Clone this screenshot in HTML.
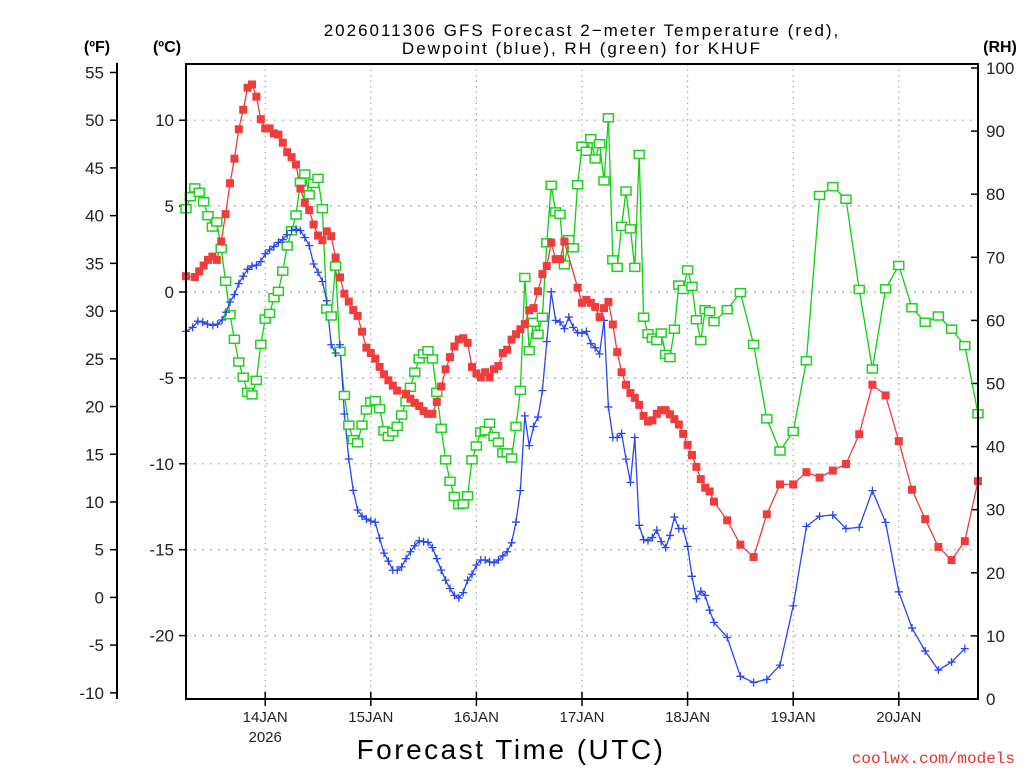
<!DOCTYPE html>
<html><head><meta charset="utf-8"><style>
body{margin:0;background:#fff;width:1024px;height:768px;overflow:hidden}
svg text{font-family:"Liberation Sans","DejaVu Sans",sans-serif}
</style></head><body>
<svg id="chart" width="1024" height="768" viewBox="0 0 1024 768" xmlns="http://www.w3.org/2000/svg">
<g id="grid"></g>
<g id="axes"></g>
<g id="series"></g>
<rect x="186" y="64" width="792" height="635" fill="none" stroke="#000" stroke-width="2"/>
<text x="582" y="36" font-size="17" letter-spacing="2" text-anchor="middle">2026011306 GFS Forecast 2−meter Temperature (red),</text>
<text x="582" y="54" font-size="17" letter-spacing="2" text-anchor="middle">Dewpoint (blue), RH (green) for KHUF</text>
<text x="97" y="52" font-size="16" font-weight="bold" text-anchor="middle">(ºF)</text>
<text x="167" y="52" font-size="16" font-weight="bold" text-anchor="middle">(ºC)</text>
<text x="1000" y="52" font-size="16" font-weight="bold" text-anchor="middle">(RH)</text>
<text x="511" y="759" font-size="28" text-anchor="middle" letter-spacing="2.5">Forecast Time (UTC)</text>
<text x="1015" y="763" font-size="16" fill="#e83030" text-anchor="end" style="font-family:'Liberation Mono',monospace">coolwx.com/models</text>
</svg>
<script>
const tempHours=[0,2,3,4,5,6,7,8,9,10,11,12,13,14,15,16,17,18,19,20,21,22,23,24,25,26,27,28,29,30,31,32,33,34,35,36,37,38,39,40,41,42,43,44,45,46,47,48,50,51,52,53,54,55,56,57,58,59,60,61,62,63,64,65,66,67,68,69,70,71,72,73,74,75,76,77,78,79,80,81,82,83,84,85,86,89,90,91,92,93,94,95,96,97,98,99,100,101,102,103,104,105,106,107,108,109,110,111,112,113,114,115,116,117,118,119,120,123,126,129,132,135,138,141,144,147,150,153,156,159,162,165,168,171,174,177,180];
const tempC=[0.92,0.87,1.2,1.54,1.87,2.06,1.87,2.94,4.53,6.33,7.76,9.47,10.61,11.89,12.08,11.37,10.06,9.52,9.52,9.23,9.16,8.69,8.14,7.85,7.42,6.02,5.19,4.77,3.93,3.29,3.01,3.53,3.25,2.01,0.85,-0.1,-0.56,-1.05,-1.39,-2.31,-3.24,-3.55,-3.88,-4.36,-4.79,-5.14,-5.45,-5.74,-5.93,-6.21,-6.45,-6.64,-6.93,-7.09,-7.09,-6.4,-5.5,-4.5,-3.79,-3.17,-2.77,-2.69,-2.96,-4.36,-4.74,-4.97,-4.67,-4.97,-4.5,-4.31,-3.55,-3.36,-2.77,-2.46,-2.17,-1.87,-1.06,-0.94,0.04,1.04,1.51,2.87,1.91,1.91,2.94,0.25,-0.63,-0.46,-0.63,-0.87,-1.46,-0.94,-0.58,-1.89,-3.5,-4.67,-5.4,-5.88,-6.16,-6.57,-7.21,-7.54,-7.47,-7.09,-6.88,-6.88,-7.12,-7.4,-7.71,-8.26,-8.9,-9.49,-10.18,-10.89,-11.39,-11.61,-12.2,-13.29,-14.71,-15.43,-12.94,-11.2,-11.2,-10.49,-10.8,-10.39,-10.01,-8.28,-5.4,-6.02,-8.68,-11.51,-13.22,-14.84,-15.6,-14.5,-11.01];
const dewHours=[0,1.5,2.7,3.8,4.9,6.1,7.2,8.2,9.1,10,11,12,13,14,15,16,17,18,19,20,21,22,23,24,25,26,27,28,29,30,31,32,33,34,35,36,37,38,39,40,41,42,43,44,45,46,47,48,49,50,51,52,53,54,55,56,57,58,59,60,61,62,63,64,65,66,67,68,69,70,71,72,73,74,75,76,77,78,79,80,81,82,83,84,85,86,87,88,89,90,91,92,93,94,95,96,97,98,99,100,101,102,103,104,105,106,107,108,109,110,111,112,113,114,115,116,117,118,119,120,123,126,129,132,135,138,141,144,147,150,153,156,159,162,165,168,171,174,177,180];
const dewC=[-2.29,-2.06,-1.7,-1.75,-1.87,-1.94,-1.87,-1.63,-1.18,-0.58,-0.15,0.49,0.92,1.32,1.51,1.56,1.77,2.22,2.46,2.65,2.89,3.05,3.34,3.58,3.65,3.58,3.17,2.7,1.63,1.15,0.61,-0.51,-3.07,-3.55,-3.07,-7.1,-9.72,-11.55,-12.69,-13.05,-13.22,-13.33,-13.4,-14.33,-15.2,-15.67,-16.19,-16.19,-16.0,-15.52,-15.12,-14.77,-14.48,-14.53,-14.57,-14.88,-15.52,-16.19,-16.78,-17.26,-17.66,-17.81,-17.5,-16.78,-16.43,-15.9,-15.6,-15.6,-15.71,-15.76,-15.6,-15.36,-15.12,-14.6,-13.39,-11.56,-7.21,-8.94,-7.83,-7.28,-5.74,-2.89,0.01,-1.65,-1.75,-2.13,-1.46,-2.06,-2.36,-2.4,-2.29,-3.0,-3.24,-3.6,-1.65,-6.69,-8.47,-8.47,-8.23,-9.73,-11.08,-8.47,-13.58,-14.41,-14.48,-14.29,-13.86,-14.53,-14.88,-14.17,-13.1,-13.77,-13.77,-14.81,-16.55,-17.85,-17.42,-17.66,-18.52,-19.23,-20.11,-22.37,-22.73,-22.55,-21.72,-18.27,-13.65,-13.05,-12.98,-13.77,-13.7,-11.56,-13.41,-17.45,-19.56,-20.9,-22.01,-21.54,-20.76];
const rhHours=[0,1,2,3,4,5,6,7,8,9,10,11,12,13,14,15,16,17,18,19,20,21,22,23,24,25,26,27,28,29,30,31,32,33,34,35,36,37,38,39,40,41,42,43,44,45,46,47,48,49,50,51,52,53,54,55,56,57,58,59,60,61,62,63,64,65,66,67,68,69,70,71,72,73,74,75,76,77,78,79,80,81,82,83,84,85,86,87,88,89,90,91,92,93,94,95,96,97,98,99,100,101,102,103,104,105,106,107,108,109,110,111,112,113,114,115,116,117,118,119,120,123,126,129,132,135,138,141,144,147,150,153,156,159,162,165,168,171,174,177,180];
const rhValues=[77.7,79.6,81,80.3,78.8,76.6,74.8,75.6,71.4,66.2,60.9,57,53.4,51,48.6,48.2,50.5,56.2,60.2,61.1,63.6,64.6,67.8,71.8,74.2,76.7,81.9,83.2,79.9,81.7,82.5,77.7,61.8,60.7,68.6,55.1,48.1,43.4,41.1,40.6,43.4,45.8,47.1,47.3,46,42.5,41.6,42.3,43.2,45,47.1,49.4,51.8,53.9,54.7,55.2,53.9,48.6,42.9,37.9,34.5,32.1,30.8,30.9,32.2,37.9,40.1,42.3,42.5,43.7,41.6,40.7,39,39,38.2,43.2,48.9,66.8,55.2,59.7,57.8,60.5,72.3,81.4,77.2,76.8,68.8,72.8,71.5,81.5,87.6,86.8,88.8,85.6,88,82.1,92.1,69.6,68.4,74.9,80.5,74.5,68.4,86.3,60.5,57.9,57.2,56.8,58,54.6,54.1,58.6,65.6,64.9,68,65.4,60.1,56.8,61.7,61.4,59.8,61.7,64.4,56.2,44.4,39.3,42.4,53.6,79.8,81.2,79.2,64.9,52.3,65,68.7,62,59.7,60.7,58.6,56,45.2];
const fTicks=[55,50,45,40,35,30,25,20,15,10,5,0,-5,-10];
const cTicks=[10,5,0,-5,-10,-15,-20];
const rhTicks=[100,90,80,70,60,50,40,30,20,10,0];
const dayLabels=["14JAN","15JAN","16JAN","17JAN","18JAN","19JAN","20JAN"];
const dayHours=[18,42,66,90,114,138,162];

const NS="http://www.w3.org/2000/svg";
const xS=h=>186+h*4.4;
const yC=c=>292-c*17.18;
const yR=r=>699-r*6.31;
const yF=f=>yC((f-32)*5/9);
function mk(parent,tag,attrs){const e=document.createElementNS(NS,tag);for(const k in attrs)e.setAttribute(k,attrs[k]);parent.appendChild(e);return e;}
const grid=document.getElementById('grid'),axes=document.getElementById('axes'),series=document.getElementById('series');

cTicks.forEach(c=>{
  const y=yC(c);
  const l=mk(grid,'line',{x1:186,x2:978,y1:y,y2:y,stroke:'#aaa','stroke-dasharray':'2,6','stroke-width':1.2});
  
  
  const t=mk(axes,'line',{x1:179,x2:186,y1:y,y2:y,stroke:'#000','stroke-width':1.5});
  
  
  const tx=mk(axes,'text',{x:174,y:y+6,'font-size':17,'text-anchor':'end',fill:'#222'});
  tx.textContent=c;
  
  
});
dayHours.forEach((h,i)=>{
  const x=xS(h);
  const l=mk(grid,'line',{x1:x,x2:x,y1:64,y2:699,stroke:'#aaa','stroke-dasharray':'1.5,4','stroke-width':1.2});
  
  
  const t=mk(axes,'line',{x1:x,x2:x,y1:692,y2:706,stroke:'#000','stroke-width':1.5});
  
  
  const tx=mk(axes,'text',{x:x,y:722,'font-size':15,'text-anchor':'middle',fill:'#222'});
  tx.textContent=dayLabels[i];
  
  
});
const yr=mk(axes,'text',{x:xS(18),y:742,'font-size':15,'text-anchor':'middle',fill:'#222'});
yr.textContent='2026';


const fl=mk(axes,'line',{x1:117,x2:117,y1:yF(56),y2:699,stroke:'#000','stroke-width':2});


fTicks.forEach(f=>{
  const y=yF(f);
  const t=mk(axes,'line',{x1:110,x2:117,y1:y,y2:y,stroke:'#000','stroke-width':1.5});
  
  
  const tx=mk(axes,'text',{x:104,y:y+6,'font-size':17,'text-anchor':'end',fill:'#222'});
  tx.textContent=f;
  
  
});
rhTicks.forEach(r=>{
  const y=yR(r);
  const t=mk(axes,'line',{x1:971,x2:978,y1:y,y2:y,stroke:'#000','stroke-width':1.5});
  
  
  const tx=mk(axes,'text',{x:986,y:y+6,'font-size':17,'text-anchor':'start',fill:'#222'});
  tx.textContent=r;
  
  
});

function drawLine(hours,vals,yf,color,name){
  const pts=hours.map((h,i)=>xS(h).toFixed(1)+','+yf(vals[i]).toFixed(1)).join(' ');
  const pl=mk(series,'polyline',{points:pts,fill:'none',stroke:color,'stroke-width':1.3});
  
  
}
drawLine(rhHours,rhValues,yR,'#10d010','rh');
drawLine(dewHours,dewC,yC,'#2a46f0','dewpoint');
drawLine(tempHours,tempC,yC,'#f03c3c','temperature');
rhHours.forEach((h,i)=>{
  const r=mk(series,'rect',{x:xS(h)-5,y:yR(rhValues[i])-4,width:10,height:8,fill:'#fff',stroke:'#20d020','stroke-width':1.5});
  
  
});
dewHours.forEach((h,i)=>{
  const x=xS(h),y=yC(dewC[i]);
  const p=mk(series,'path',{d:`M${x-4},${y}H${x+4}M${x},${y-4}V${y+4}`,stroke:'#2a46f0','stroke-width':1.3,fill:'none'});
  
  
});
tempHours.forEach((h,i)=>{
  const r=mk(series,'rect',{x:xS(h)-4,y:yC(tempC[i])-4,width:8,height:8,fill:'#f03c3c'});
  
  
});
</script>
</body></html>
